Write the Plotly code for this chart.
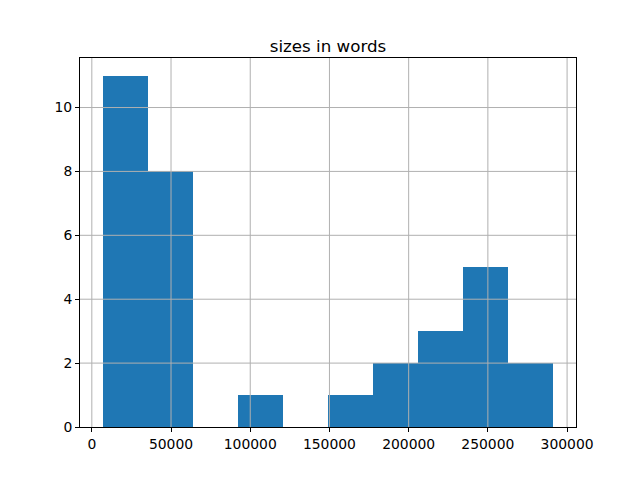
import plotly.graph_objects as go

# Histogram data (10 bins)
bin_min = 6770
bin_max = 291400
counts = [11, 8, 0, 1, 0, 1, 2, 3, 5, 2]
x_ticks = [0, 50000, 100000, 150000, 200000, 250000, 300000]
y_ticks = [0, 2, 4, 6, 8, 10]
title_text = "sizes in words"

n = len(counts)
w = (bin_max - bin_min) / n
edges = [bin_min + i * w for i in range(n + 1)]
centers = [(edges[i] + edges[i + 1]) / 2 for i in range(n)]

span = bin_max - bin_min
xr = [bin_min - 0.05 * span, bin_max + 0.05 * span]
yr = [0, max(counts) * 1.05]

fig = go.Figure(go.Bar(
    x=centers, y=counts, width=[w] * n,
    marker=dict(color="#1f77b4", line=dict(width=0)),
    hoverinfo="skip",
))

font = "DejaVu Sans, sans-serif"
axis_common = dict(
    showline=True, mirror=True, linecolor="black", linewidth=1,
    ticks="outside", ticklen=4, tickwidth=1, tickcolor="black",
    showgrid=False,
    zeroline=False, layer="above traces",
    tickfont=dict(family=font, size=13.9, color="black"),
)

# Grid lines drawn above the bars (as matplotlib does for histogram patches)
grid_style = dict(color="#b0b0b0", width=1)
shapes = []
for xv in x_ticks:
    if xr[0] < xv < xr[1]:
        shapes.append(dict(type="line", xref="x", yref="paper", x0=xv, x1=xv, y0=0, y1=1,
                           line=grid_style, layer="above"))
for yv in y_ticks:
    if yr[0] < yv < yr[1]:
        shapes.append(dict(type="line", xref="paper", yref="y", x0=0, x1=1, y0=yv, y1=yv,
                           line=grid_style, layer="above"))

fig.update_layout(
    width=640, height=480,
    margin=dict(l=80, r=64, t=58, b=53),
    paper_bgcolor="white", plot_bgcolor="white",
    showlegend=False, bargap=0,
    shapes=shapes,
    title=dict(text=title_text, x=(80 + 576) / 2 / 640, xanchor="center",
               y=(480 - 52) / 480, yanchor="bottom", yref="container",
               font=dict(family=font, size=16.7, color="black")),
    xaxis=dict(range=xr, tickvals=x_ticks, ticktext=[str(v) for v in x_ticks], **axis_common),
    yaxis=dict(range=yr, tickvals=y_ticks, ticktext=[str(v) for v in y_ticks], **axis_common),
)

fig.write_html("out.html", config={"displayModeBar": False},
               post_script="document.body.style.margin='0';")
